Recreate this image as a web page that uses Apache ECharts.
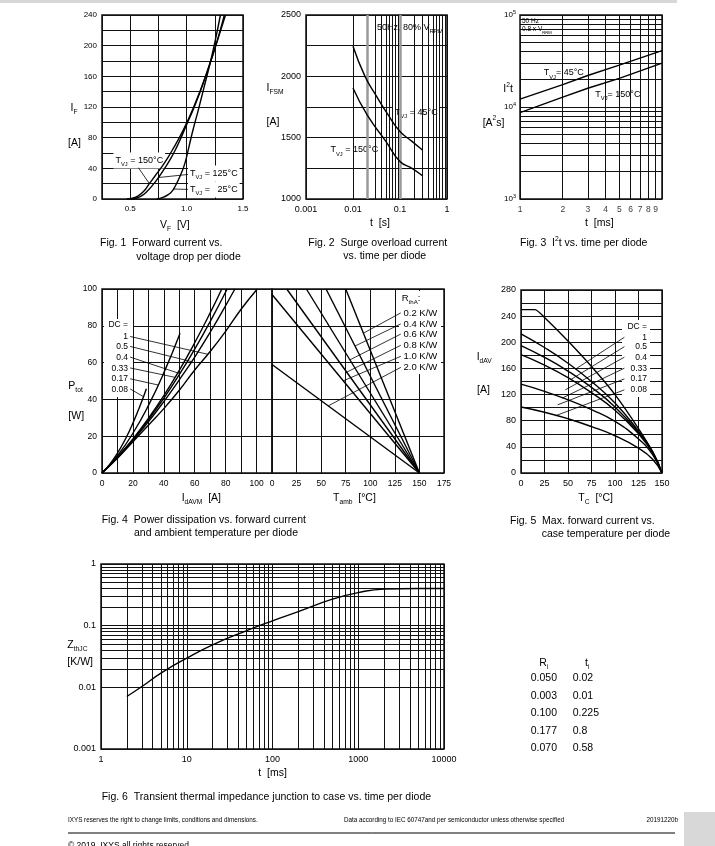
<!DOCTYPE html>
<html>
<head>
<meta charset="utf-8">
<script src="https://cdn.jsdelivr.net/npm/echarts@6/dist/echarts.min.js"></script>
<style>
  html, body { margin: 0; padding: 0; background: #fff; }
  #chart { width: 715px; height: 846px; }
</style>
</head>
<body>
<div id="chart"></div>
<script>
const FONT = '"Liberation Sans", Arial, Helvetica, sans-serif';
const INK = '#111';

// Fig. 1  forward current I_F [A] vs forward voltage V_F [V]
const fig1T150 = [[0.47,0],[0.52,1],[0.57,4],[0.62,10],[0.67,20],[0.72,30],[0.77,40],[0.83,53],[0.89,68],[0.95,84],[1.0,99],[1.06,119],[1.12,141],[1.18,165],[1.24,191],[1.3,219],[1.345,240]];
const fig1T125 = [[0.5,0],[0.55,1],[0.6,4],[0.65,10],[0.71,20],[0.76,30],[0.805,40],[0.86,53],[0.91,67],[0.96,83],[1.0,97],[1.06,117],[1.12,140],[1.18,165],[1.24,192],[1.29,216],[1.335,240]];
const fig1T25 = [[0.735,0],[0.79,2],[0.84,6],[0.87,10],[0.9,17],[0.94,29],[0.975,42],[1.0,55],[1.035,77],[1.06,92],[1.1,114],[1.15,143],[1.2,172],[1.25,204],[1.3,240]];

// Fig. 2  surge current I_FSM [A] vs t [s]
const fig2T45 = [[0.01,2245],[0.018,2000],[0.032,1835],[0.056,1685],[0.1,1550],[0.18,1470],[0.3,1400]];
const fig2T150 = [[0.01,1905],[0.02,1685],[0.05,1470],[0.1,1305],[0.18,1250],[0.3,1190]];
const fig2XLabels = ['0.001', '0.01', '0.1', '1'];

// Fig. 3  I2t [A2s] vs t [ms]
const fig3T45 = [[1,12200],[2,17500],[3,22000],[5,28500],[10,41000]];
const fig3T150 = [[1,8700],[2,12800],[3,16000],[5,20500],[10,30000]];
const fig3XTicks = [1, 2, 3, 4, 5, 6, 7, 8, 9];

// Fig. 4  P_tot [W] vs I_dAVM [A] per duty cycle
const fig4D1 = [[0,0],[10,8],[20,17],[30,26],[40,35],[50,45],[60,56],[70,66],[80,77],[90,89],[100.5,100]];
const fig4D05 = [[0,0],[10,8.4],[20,17.7],[30,27.8],[40,38.8],[50,50.6],[60,63],[70,76.5],[80,91],[86,100]];
const fig4D04 = [[0,0],[10,8.5],[20,18.1],[30,28.8],[40,40.6],[50,53.4],[60,67.3],[70,82.3],[81,100]];
const fig4D033 = [[0,0],[10,8.6],[20,18.5],[30,29.7],[40,42.1],[50,55.8],[60,70.8],[70,87],[77.5,100]];
const fig4D017 = [[0,0],[10,9.4],[20,21.6],[30,36.6],[40,54.4],[50.5,76]];
const fig4D008 = [[0,0],[5,4.7],[10,10.8],[15,18.2],[20,27.1],[25,37.3],[28.7,45.8]];
const fig4Duty = ['1', '0.5', '0.4', '0.33', '0.17', '0.08'];
// Fig. 4 right  P_tot [W] vs T_amb [°C] per R_thA
const fig4R02 = [[75,100],[150,0]];
const fig4R04 = [[55,100],[150,0]];
const fig4R06 = [[35,100],[150,0]];
const fig4R08 = [[15,100],[150,0]];
const fig4R10 = [[0,97],[150,0]];
const fig4R20 = [[0,59],[150,0]];
const fig4Rth = ['0.2 K/W', '0.4 K/W', '0.6 K/W', '0.8 K/W', '1.0 K/W', '2.0 K/W'];

// Fig. 5  I_dAV [A] vs T_C [°C]
const fig5D1 = [[0,250],[15,250],[25,238],[50,202],[75,163],[100,120],[125,68],[140,32],[150,0]];
const fig5D05 = [[0,213],[25,192],[50,168],[75,140],[100,107],[125,64],[140,33],[150,0]];
const fig5D04 = [[0,195],[25,177],[50,156],[75,131],[100,101],[125,62],[140,32],[150,0]];
const fig5D033 = [[0,181],[25,165],[50,146],[75,123],[100,96],[125,60],[140,31],[150,0]];
const fig5D017 = [[0,136],[25,125],[50,112],[75,97],[100,79],[125,52],[140,28],[150,0]];
const fig5D008 = [[0,101],[25,93],[50,83],[75,71],[100,57],[125,38],[140,21],[150,0]];

// Fig. 6  Z_thJC [K/W] vs t [ms]
const fig6Zth = [[2,0.0071],[3,0.0103],[5,0.017],[10,0.0297],[20,0.0488],[50,0.0833],[100,0.12],[200,0.169],[500,0.269],[1000,0.344],[2000,0.392],[5000,0.4],[10000,0.4]];
const fig6XLabels = ['1', '10', '100', '1000', '10000'];
const fig6YLabels = ['0.001', '0.01', '0.1', '1'];

// thermal model table
const tableRi = ['0.050', '0.003', '0.100', '0.177', '0.070'];
const tableTi = ['0.02', '0.01', '0.225', '0.8', '0.58'];

// minor lines of a log grid: 2..9 of every decade between lo and hi
function logMinors(lo, hi) {
  const out = [];
  for (let e = Math.round(Math.log10(lo)); e < Math.round(Math.log10(hi)); e++) {
    for (let m = 2; m <= 9; m++) out.push(Number((m * Math.pow(10, e)).toPrecision(6)));
  }
  return out;
}

const grids = [
  {left: 102, top: 15, width: 141, height: 184},
  {left: 306, top: 15, width: 141, height: 184},
  {left: 520, top: 15, width: 142, height: 184},
  {left: 102, top: 289, width: 170, height: 184},
  {left: 272, top: 289, width: 172, height: 184},
  {left: 521, top: 290, width: 141, height: 183},
  {left: 101, top: 564, width: 343, height: 185}
].map(g => Object.assign({show: true, borderColor: INK, borderWidth: 1.5, backgroundColor: 'transparent',
  containLabel: false, outerBoundsMode: 'none'}, g));

function linAxis(gi, min, max, step, every, o) {
  o = o || {};
  return {
    type: 'value', gridIndex: gi, min: min, max: max, interval: step,
    axisLine: {show: false}, axisTick: {show: false},
    splitLine: {show: true, lineStyle: {color: INK, width: 1}},
    axisLabel: {
      show: !o.hide, fontFamily: FONT, fontSize: o.fs || 8, color: '#000', margin: o.margin || 5,
      formatter: function (v) {
        const k = v / every;
        if (Math.abs(k - Math.round(k)) > 1e-6) return '';
        if (o.maxLabel != null && v > o.maxLabel) return '';
        return o.fmt ? o.fmt(v) : String(v);
      }
    }
  };
}

function logAxis(gi, min, max, o) {
  o = o || {};
  return {
    type: 'log', logBase: 10, gridIndex: gi, min: min, max: max,
    axisLine: {show: false}, axisTick: {show: false},
    splitLine: {show: true, lineStyle: {color: INK, width: 1}},
    axisLabel: {
      show: !o.hide, fontFamily: FONT, fontSize: o.fs || 8, color: '#000', margin: o.margin || 5,
      rich: o.rich, formatter: o.fmt
    }
  };
}

function gridLines(gi, xs, ys, color, width) {
  return {
    type: 'line', xAxisIndex: gi, yAxisIndex: gi, data: [], z: 1, silent: true, symbol: 'none',
    markLine: {
      silent: true, symbol: 'none', animation: false, label: {show: false},
      lineStyle: {type: 'solid', color: color || INK, width: width || 1},
      emphasis: {disabled: true},
      data: xs.map(v => ({xAxis: v})).concat(ys.map(v => ({yAxis: v})))
    }
  };
}

function curve(data, gi, smooth) {
  return {
    type: 'line', xAxisIndex: gi, yAxisIndex: gi, data: data, symbol: 'none', showSymbol: false,
    smooth: smooth === undefined ? true : smooth, z: 5, silent: true,
    lineStyle: {color: '#000', width: 1.4}
  };
}

function leader(gi, from, to) {
  return {
    type: 'line', xAxisIndex: gi, yAxisIndex: gi, data: [from, to], symbol: 'none', z: 5, silent: true,
    lineStyle: {color: '#000', width: 0.8}
  };
}

function richSet(fs) {
  const s = Math.round(fs * 0.64 * 10) / 10;
  return {
    m: {fontFamily: FONT, fontSize: fs, lineHeight: fs + 5, verticalAlign: 'middle', fill: '#000'},
    s: {fontFamily: FONT, fontSize: s, lineHeight: s, verticalAlign: 'bottom', fill: '#000'},
    p: {fontFamily: FONT, fontSize: s, lineHeight: s, verticalAlign: 'top', fill: '#000'}
  };
}

function txt(x, y, text, o) {
  o = o || {};
  const fs = o.fs || 9;
  return {
    type: 'text', x: x, y: y, z: o.z || (o.bg ? 4 : 6), silent: true,
    style: {
      text: text, fontFamily: FONT, fontSize: fs, fill: '#000',
      align: o.align || 'left', verticalAlign: 'middle',
      backgroundColor: o.bg || 'transparent', padding: o.bg ? [1, 2] : 0,
      rich: richSet(fs)
    }
  };
}

function box(x, y, w, h) {
  return {type: 'rect', z: 3, silent: true, shape: {x: x, y: y, width: w, height: h}, style: {fill: '#fff'}};
}

const decadeFmt = labels => (v => labels[Math.round(Math.log10(v)) - Math.round(Math.log10(Number(labels[0])))] || '');

const xAxes = [
  linAxis(0, 0.25, 1.5, 0.25, 0.5, {fmt: v => v.toFixed(1), margin: 6}),
  logAxis(1, 0.001, 1, {fmt: decadeFmt(fig2XLabels), margin: 6, fs: 9}),
  logAxis(2, 1, 10, {hide: true}),
  linAxis(3, 0, 110, 10, 20, {maxLabel: 100, margin: 6, fs: 8.5}),
  linAxis(4, 0, 175, 25, 25, {margin: 6, fs: 8.5}),
  linAxis(5, 0, 150, 25, 25, {margin: 6, fs: 9}),
  logAxis(6, 1, 10000, {fmt: decadeFmt(fig6XLabels), margin: 6, fs: 9})
];

const yAxes = [
  linAxis(0, 0, 240, 20, 40),
  linAxis(1, 1000, 2500, 250, 500, {fs: 9}),
  logAxis(2, 1000, 100000, {
    margin: 4,
    rich: {
      b: {fontFamily: FONT, fontSize: 8, lineHeight: 12, color: '#000'},
      p: {fontFamily: FONT, fontSize: 5.5, lineHeight: 5.5, verticalAlign: 'top', color: '#000'}
    },
    fmt: v => '{b|10}{p|' + Math.round(Math.log10(v)) + '}'
  }),
  linAxis(3, 0, 100, 20, 20, {fs: 8.5}),
  linAxis(4, 0, 100, 20, 20, {hide: true}),
  linAxis(5, 0, 280, 20, 40, {fs: 9}),
  logAxis(6, 0.001, 1, {fmt: decadeFmt(fig6YLabels), fs: 9})
];

const series = [
  // fig 1
  curve(fig1T150, 0), curve(fig1T125, 0), curve(fig1T25, 0),
  leader(0, [0.573, 40.8], [0.67, 20]),
  leader(0, [1.012, 32], [0.75, 28]),
  leader(0, [1.012, 12.5], [0.885, 13]),
  // fig 2
  gridLines(1, logMinors(0.001, 1), []),
  gridLines(1, [0.02, 0.1], [], '#9a9a9a', 2.5),
  curve(fig2T45, 1), curve(fig2T150, 1),
  // fig 3
  gridLines(2, logMinors(1, 10), logMinors(1000, 100000)),
  curve(fig3T45, 2, false), curve(fig3T150, 2, false),
  {
    type: 'scatter', xAxisIndex: 2, yAxisIndex: 2, data: fig3XTicks.map(v => [v, 1000]),
    symbolSize: 0, z: 6, silent: true,
    label: {show: true, position: 'bottom', distance: 6, formatter: p => String(p.value[0]),
      fontFamily: FONT, fontSize: 8.5, color: '#000'}
  },
  // fig 4 left
  curve(fig4D1, 3), curve(fig4D05, 3), curve(fig4D04, 3), curve(fig4D033, 3), curve(fig4D017, 3), curve(fig4D008, 3),
  leader(3, [18.2, 74.2], [68.6, 64.5]),
  leader(3, [18.2, 68.8], [58, 60.5]),
  leader(3, [18.2, 63], [50.4, 54]),
  leader(3, [18.2, 57.1], [47.2, 52]),
  leader(3, [18.2, 51.2], [36.5, 47.8]),
  leader(3, [18.2, 45.7], [26.8, 41.5]),
  // fig 4 right
  curve(fig4R02, 4, false), curve(fig4R04, 4, false), curve(fig4R06, 4, false),
  curve(fig4R08, 4, false), curve(fig4R10, 4, false), curve(fig4R20, 4, false),
  leader(4, [131, 87], [93, 76]),
  leader(4, [131, 81], [84.4, 69]),
  leader(4, [131, 75.5], [79.3, 61.5]),
  leader(4, [131, 69.4], [76, 54.8]),
  leader(4, [131, 63.4], [72.5, 50.1]),
  leader(4, [131, 57.4], [57.3, 36.5]),
  // fig 5
  curve(fig5D1, 5, 0.2), curve(fig5D05, 5), curve(fig5D04, 5), curve(fig5D033, 5), curve(fig5D017, 5), curve(fig5D008, 5),
  leader(5, [110, 207.7], [57.8, 158.8]),
  leader(5, [110, 193.3], [52.4, 142.5]),
  leader(5, [110, 177.2], [47.1, 127.2]),
  leader(5, [110, 160.4], [43.6, 114.5]),
  leader(5, [110, 144], [39, 104.3]),
  leader(5, [110, 127.2], [36.5, 87.5]),
  // fig 6
  gridLines(6, logMinors(1, 10000), logMinors(0.001, 1)),
  curve(fig6Zth, 6)
];

const g = [];
// page edges
g.push({type: 'rect', z: 0, silent: true, shape: {x: 0, y: 0, width: 677, height: 3}, style: {fill: '#d8d8d8'}});
g.push({type: 'rect', z: 0, silent: true, shape: {x: 684, y: 812, width: 31, height: 34}, style: {fill: '#d8d8d8'}});

// fig 1
g.push(txt(113.5, 160.5, '{m|T}{s|VJ}{m| = 150°C}', {bg: '#fff'}));
g.push(txt(188, 173.5, '{m|T}{s|VJ}{m| = 125°C}', {bg: '#fff'}));
g.push(txt(188, 189.5, '{m|T}{s|VJ}{m| =   25°C}', {bg: '#fff'}));
g.push(txt(70.5, 108, '{m|I}{s|F}', {fs: 10.5}));
g.push(txt(68, 143, '[A]', {fs: 10.5}));
g.push(txt(160, 225, '{m|V}{s|F}{m|  [V]}', {fs: 10.5}));
g.push(txt(100, 243.3, 'Fig. 1  Forward current vs.', {fs: 10.5}));
g.push(txt(136.3, 256.7, 'voltage drop per diode', {fs: 10.5}));

// fig 2
g.push(txt(375, 27.5, '{m|50Hz, 80% V}{s|RRM}', {bg: '#fff'}));
g.push(txt(393, 112.5, '{m|T}{s|VJ}{m| = 45°C}', {bg: '#fff'}));
g.push(txt(328.5, 150, '{m|T}{s|VJ}{m| = 150°C}', {bg: '#fff'}));
g.push(txt(266.5, 88, '{m|I}{s|FSM}', {fs: 10.5}));
g.push(txt(266.5, 121.7, '[A]', {fs: 10.5}));
g.push(txt(370, 222.7, 't  [s]', {fs: 10.5}));
g.push(txt(308.3, 243.3, 'Fig. 2  Surge overload current', {fs: 10.5}));
g.push(txt(343.3, 256.4, 'vs. time per diode', {fs: 10.5}));

// fig 3
g.push(box(520.8, 16, 41, 17.5));
g.push(txt(522, 21, '50 Hz', {fs: 6.5}));
g.push(txt(522, 29.3, '{m|0.8 x V}{s|RRM}', {fs: 6.5}));
g.push(txt(541.7, 73, '{m|T}{s|VJ}{m|= 45°C}', {bg: '#fff'}));
g.push(txt(593.3, 94.3, '{m|T}{s|VJ}{m|= 150°C}', {bg: '#fff'}));
g.push(txt(503.3, 89.3, '{m|I}{p|2}{m|t}', {fs: 10.5}));
g.push(txt(482.7, 122.7, '{m|[A}{p|2}{m|s]}', {fs: 10.5}));
g.push(txt(585, 222.7, 't  [ms]', {fs: 10.5}));
g.push(txt(520, 243.3, '{m|Fig. 3  I}{p|2}{m|t vs. time per diode}', {fs: 10.5}));

// fig 4
g.push(box(104, 319, 29, 78));
g.push(txt(128, 325, 'DC =', {align: 'right', fs: 8.5}));
const f4y = [336.7, 346.7, 357.3, 368.3, 379, 389.3];
fig4Duty.forEach((s, i) => g.push(txt(128, f4y[i], s, {align: 'right', fs: 8.5})));
g.push(box(399, 291, 42, 83));
g.push(txt(401.7, 298.3, '{m|R}{s|thA}{m|:}', {fs: 9.5}));
const f4ry = [313.3, 324.3, 334.7, 345.7, 356.7, 367.7];
fig4Rth.forEach((s, i) => g.push(txt(403.5, f4ry[i], s, {fs: 9.5})));
g.push(txt(68.3, 386, '{m|P}{s|tot}', {fs: 10.5}));
g.push(txt(68.3, 416, '[W]', {fs: 10.5}));
g.push(txt(181.7, 498.3, '{m|I}{s|dAVM}{m|  [A]}', {fs: 10.5}));
g.push(txt(333, 498.3, '{m|T}{s|amb}{m|  [°C]}', {fs: 10.5}));
g.push(txt(101.7, 520, 'Fig. 4  Power dissipation vs. forward current', {fs: 10.5}));
g.push(txt(134, 533.3, 'and ambient temperature per diode', {fs: 10.5}));

// fig 5
g.push(box(622, 320, 28, 77));
g.push(txt(647, 326.7, 'DC =', {align: 'right', fs: 8.5}));
const f5y = [337.3, 346.7, 357.3, 368.3, 379, 390];
fig4Duty.forEach((s, i) => g.push(txt(647, f5y[i], s, {align: 'right', fs: 8.5})));
g.push(txt(476.7, 357.3, '{m|I}{s|dAV}', {fs: 10.5}));
g.push(txt(477, 390, '[A]', {fs: 10.5}));
g.push(txt(578.3, 498.3, '{m|T}{s|C}{m|  [°C]}', {fs: 10.5}));
g.push(txt(510, 520.7, 'Fig. 5  Max. forward current vs.', {fs: 10.5}));
g.push(txt(541.7, 534.5, 'case temperature per diode', {fs: 10.5}));

// fig 6
g.push(txt(67.3, 645, '{m|Z}{s|thJC}', {fs: 10.5}));
g.push(txt(67.3, 661.7, '[K/W]', {fs: 10.5}));
g.push(txt(258.3, 772.7, 't  [ms]', {fs: 10.5}));
g.push(txt(101.7, 796.7, 'Fig. 6  Transient thermal impedance junction to case vs. time per diode', {fs: 10.5}));

// R_i / t_i table
g.push(txt(539.3, 662.7, '{m|R}{s|i}', {fs: 10.5}));
g.push(txt(585, 662.7, '{m|t}{s|i}', {fs: 10.5}));
const rowY = [678.3, 696, 713.3, 730.7, 748.3];
tableRi.forEach((s, i) => g.push(txt(530.7, rowY[i], s, {fs: 10.5})));
tableTi.forEach((s, i) => g.push(txt(572.7, rowY[i], s, {fs: 10.5})));

// footer
g.push(txt(68, 820, 'IXYS reserves the right to change limits, conditions and dimensions.', {fs: 6.3}));
g.push(txt(344, 820, 'Data according to IEC 60747and per semiconductor unless otherwise specified', {fs: 6.3}));
g.push(txt(646.6, 820, '20191220b', {fs: 6.3}));
g.push({type: 'line', z: 6, silent: true, shape: {x1: 68, y1: 833, x2: 675, y2: 833}, style: {stroke: '#000', lineWidth: 1}});
g.push(txt(68, 845.5, '© 2019  IXYS all rights reserved', {fs: 8.5}));

const chart = echarts.init(document.getElementById('chart'), null, {renderer: 'canvas'});
chart.setOption({
  animation: false,
  backgroundColor: '#fff',
  textStyle: {fontFamily: FONT},
  grid: grids,
  xAxis: xAxes,
  yAxis: yAxes,
  series: series,
  graphic: {elements: g}
});
</script>
</body>
</html>
